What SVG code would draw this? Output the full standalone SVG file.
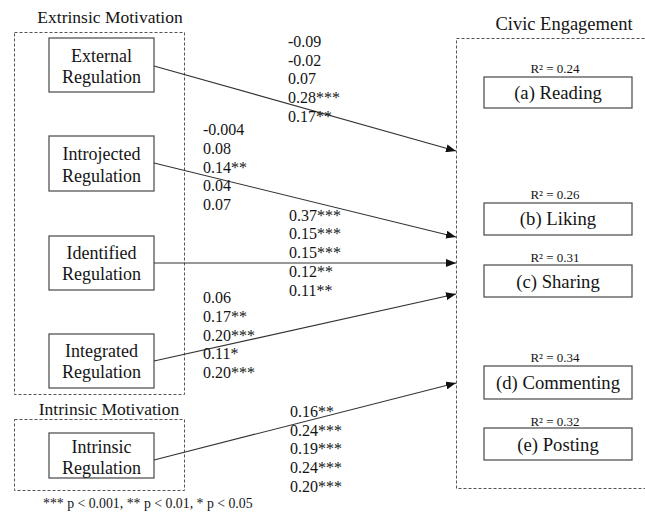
<svg xmlns="http://www.w3.org/2000/svg" width="645" height="514" viewBox="0 0 645 514">
<defs>
<marker id="ah" markerWidth="10" markerHeight="8" refX="10" refY="4" orient="auto" markerUnits="userSpaceOnUse">
<path d="M0,0 L10,4 L0,8 Z" fill="#111"/>
</marker>
<style>
text{font-family:"Liberation Serif","Times New Roman",serif;fill:#141414}
.title{font-size:17.5px}
.node{font-size:18px;text-anchor:middle}
.coef{font-size:16px}
.r2{font-size:13px;text-anchor:middle}
.foot{font-size:13.8px}
.box{fill:#fff;stroke:#555;stroke-width:1.3}
.dash{fill:none;stroke:#555;stroke-width:1;stroke-dasharray:3 2}
.conn{stroke:#333;stroke-width:1.2;fill:none;marker-end:url(#ah)}
</style>
</defs>
<rect width="645" height="514" fill="#fff"/>

<g id="extrinsic-group">
<text class="title" x="110" y="23" text-anchor="middle">Extrinsic Motivation</text>
<rect class="dash" x="14.5" y="32.5" width="170" height="362"/>
</g>
<g id="intrinsic-group">
<text class="title" x="109" y="415" text-anchor="middle">Intrinsic Motivation</text>
<rect class="dash" x="14.5" y="419.5" width="170" height="71"/>
</g>
<g id="civic-group">
<text class="title" x="564" y="30" text-anchor="middle" style="font-size:18.5px">Civic Engagement</text>
<rect class="dash" x="456.5" y="38.5" width="220" height="450"/>
</g>

<g id="external">
<rect class="box" x="49" y="38" width="105" height="54"/>
<text class="node" x="101.5" y="62">External</text>
<text class="node" x="101.5" y="83">Regulation</text>
</g>
<g id="introjected">
<rect class="box" x="49" y="136" width="105" height="55"/>
<text class="node" x="101.5" y="160">Introjected</text>
<text class="node" x="101.5" y="182">Regulation</text>
</g>
<g id="identified">
<rect class="box" x="49" y="236" width="105" height="54"/>
<text class="node" x="101.5" y="259">Identified</text>
<text class="node" x="101.5" y="280">Regulation</text>
</g>
<g id="integrated">
<rect class="box" x="49" y="334" width="105" height="54"/>
<text class="node" x="101.5" y="357">Integrated</text>
<text class="node" x="101.5" y="378">Regulation</text>
</g>
<g id="intrinsic">
<rect class="box" x="49" y="433" width="105" height="45"/>
<text class="node" x="101.5" y="453">Intrinsic</text>
<text class="node" x="101.5" y="474">Regulation</text>
</g>

<g id="reading">
<text class="r2" x="555" y="73">R² = 0.24</text>
<rect class="box" x="484" y="77" width="148" height="31"/>
<text class="node" x="558" y="99" style="font-size:18.7px">(a) Reading</text>
</g>
<g id="liking">
<text class="r2" x="555" y="199">R² = 0.26</text>
<rect class="box" x="484" y="203" width="148" height="32"/>
<text class="node" x="558" y="225" style="font-size:18.7px">(b) Liking</text>
</g>
<g id="sharing">
<text class="r2" x="555" y="262">R² = 0.31</text>
<rect class="box" x="484" y="265" width="148" height="32"/>
<text class="node" x="558" y="288" style="font-size:18.7px">(c) Sharing</text>
</g>
<g id="commenting">
<text class="r2" x="555" y="362">R² = 0.34</text>
<rect class="box" x="484" y="366" width="148" height="33"/>
<text class="node" x="558" y="389" style="font-size:18.7px">(d) Commenting</text>
</g>
<g id="posting">
<text class="r2" x="555" y="426">R² = 0.32</text>
<rect class="box" x="484" y="428" width="148" height="32"/>
<text class="node" x="558" y="451" style="font-size:18.7px">(e) Posting</text>
</g>

<g id="connectors">
<line class="conn" x1="154" y1="66" x2="456" y2="151"/>
<line class="conn" x1="154" y1="163" x2="456" y2="237"/>
<line class="conn" x1="154" y1="263" x2="456" y2="263"/>
<line class="conn" x1="154" y1="361" x2="456" y2="294"/>
<line class="conn" x1="154" y1="460" x2="456" y2="383"/>
</g>

<g id="coefficients">
<g class="coef">
<text class="coef" x="288" y="47">-0.09</text>
<text class="coef" x="288" y="66">-0.02</text>
<text class="coef" x="288" y="84">0.07</text>
<text class="coef" x="288" y="103">0.28***</text>
<text class="coef" x="288" y="122">0.17**</text>
</g>
<g>
<text class="coef" x="203" y="135">-0.004</text>
<text class="coef" x="203" y="154">0.08</text>
<text class="coef" x="203" y="173">0.14**</text>
<text class="coef" x="203" y="191">0.04</text>
<text class="coef" x="203" y="210">0.07</text>
</g>
<g>
<text class="coef" x="289" y="221">0.37***</text>
<text class="coef" x="289" y="239">0.15***</text>
<text class="coef" x="289" y="258">0.15***</text>
<text class="coef" x="289" y="277">0.12**</text>
<text class="coef" x="289" y="296">0.11**</text>
</g>
<g>
<text class="coef" x="203" y="303">0.06</text>
<text class="coef" x="203" y="322">0.17**</text>
<text class="coef" x="203" y="341">0.20***</text>
<text class="coef" x="203" y="359">0.11*</text>
<text class="coef" x="203" y="378">0.20***</text>
</g>
<g>
<text class="coef" x="290" y="417">0.16**</text>
<text class="coef" x="290" y="436">0.24***</text>
<text class="coef" x="290" y="454">0.19***</text>
<text class="coef" x="290" y="473">0.24***</text>
<text class="coef" x="290" y="492">0.20***</text>
</g>
</g>

<text class="foot" x="43" y="508">*** p &lt; 0.001, ** p &lt; 0.01, * p &lt; 0.05</text>
</svg>
